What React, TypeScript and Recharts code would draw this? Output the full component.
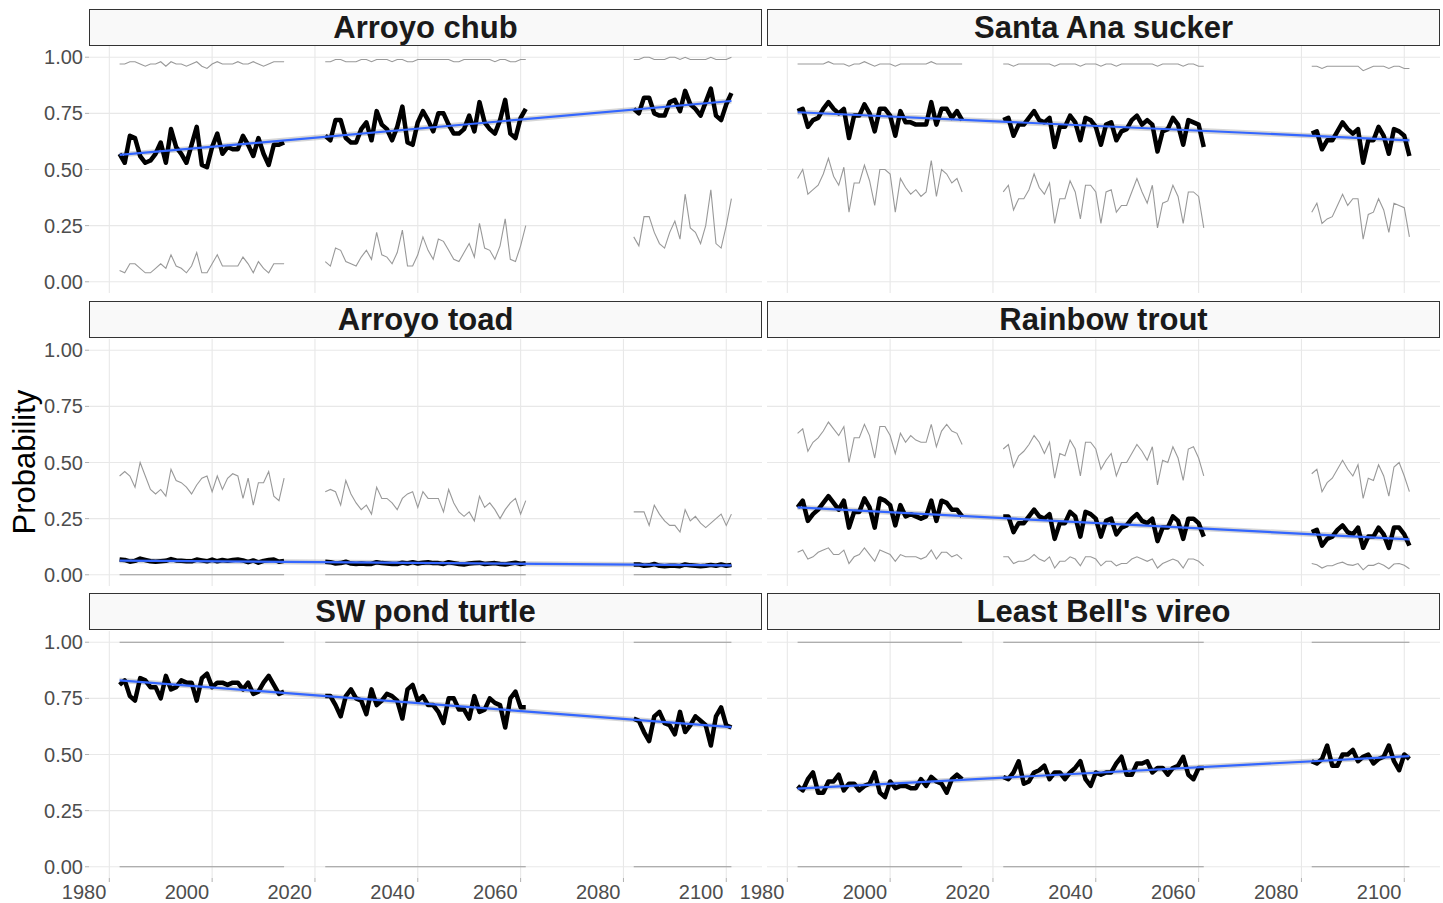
import { ComposedChart, Line, Area, XAxis, YAxis, CartesianGrid } from 'recharts'

// years are in three blocks: 1982-2014, 2022-2061, 2082-2101
const span = (a: number, b: number) => Array.from({ length: b - a + 1 }, (_, i) => a + i)
const years = [...span(1982, 2014), ...span(2022, 2061), ...span(2082, 2101)]
const gapYears = [2018, 2071]
const xTicks = [1980, 2000, 2020, 2040, 2060, 2080, 2100]
const yTicks = [0, 0.25, 0.5, 0.75, 1]

// Arroyo chub
const chubMean = [
  0.57, 0.53, 0.65, 0.64, 0.56, 0.53, 0.54, 0.57, 0.62, 0.53, 0.68, 0.60, 0.57, 0.53, 0.61, 0.69, 0.52, 0.51, 0.60, 0.66,
  0.57, 0.60, 0.59, 0.59, 0.65, 0.61, 0.56, 0.64, 0.57, 0.52, 0.61, 0.61, 0.62,
  0.65, 0.63, 0.72, 0.72, 0.64, 0.62, 0.62, 0.68, 0.71, 0.63, 0.76, 0.70, 0.68, 0.63, 0.69, 0.78, 0.62, 0.61, 0.71, 0.76,
  0.72, 0.67, 0.75, 0.75, 0.70, 0.66, 0.66, 0.68, 0.74, 0.67, 0.80, 0.71, 0.68, 0.66, 0.72, 0.81, 0.66, 0.64, 0.73, 0.77,
  0.77, 0.75, 0.82, 0.82, 0.75, 0.74, 0.74, 0.80, 0.81, 0.76, 0.85, 0.79, 0.77, 0.74, 0.80, 0.86, 0.74, 0.72, 0.79, 0.84,
]
const chubHi = [
  0.97, 0.97, 0.98, 0.98, 0.97, 0.96, 0.97, 0.97, 0.98, 0.96, 0.98, 0.97, 0.97, 0.96, 0.97, 0.98, 0.96, 0.95, 0.97, 0.98,
  0.97, 0.97, 0.97, 0.98, 0.97, 0.97, 0.98, 0.97, 0.96, 0.97, 0.98, 0.98, 0.98,
  0.98, 0.98, 0.99, 0.99, 0.98, 0.98, 0.98, 0.99, 0.99, 0.98, 0.99, 0.99, 0.99, 0.98, 0.99, 0.99, 0.98, 0.98, 0.99, 0.99,
  0.99, 0.99, 0.99, 0.99, 0.99, 0.98, 0.98, 0.99, 0.99, 0.99, 0.99, 0.99, 0.99, 0.98, 0.99, 0.99, 0.98, 0.98, 0.99, 0.99,
  0.99, 0.99, 1.0, 1.0, 0.99, 0.99, 0.99, 1.0, 1.0, 0.99, 1.0, 0.99, 0.99, 0.99, 0.99, 1.0, 0.99, 0.99, 0.99, 1.0,
]
const chubLo = [
  0.05, 0.04, 0.08, 0.08, 0.06, 0.04, 0.04, 0.06, 0.08, 0.06, 0.12, 0.07, 0.06, 0.04, 0.07, 0.13, 0.04, 0.04, 0.08, 0.12,
  0.07, 0.07, 0.07, 0.07, 0.11, 0.08, 0.04, 0.09, 0.06, 0.04, 0.08, 0.08, 0.08,
  0.09, 0.07, 0.15, 0.14, 0.09, 0.08, 0.07, 0.11, 0.14, 0.10, 0.22, 0.12, 0.11, 0.08, 0.13, 0.23, 0.07, 0.07, 0.12, 0.20,
  0.14, 0.10, 0.19, 0.18, 0.14, 0.10, 0.09, 0.13, 0.17, 0.11, 0.26, 0.15, 0.14, 0.10, 0.16, 0.28, 0.10, 0.09, 0.16, 0.25,
  0.20, 0.16, 0.29, 0.29, 0.22, 0.17, 0.15, 0.22, 0.27, 0.19, 0.39, 0.24, 0.22, 0.17, 0.25, 0.41, 0.17, 0.15, 0.25, 0.37,
]
const chubFit = [0.565, 0.805]

// Santa Ana sucker
const suckerMean = [
  0.76, 0.77, 0.69, 0.72, 0.73, 0.77, 0.80, 0.77, 0.75, 0.77, 0.64, 0.74, 0.74, 0.79, 0.75, 0.67, 0.77, 0.77, 0.74, 0.65,
  0.76, 0.71, 0.71, 0.70, 0.70, 0.70, 0.80, 0.70, 0.77, 0.77, 0.73, 0.76, 0.72,
  0.72, 0.73, 0.65, 0.70, 0.70, 0.73, 0.76, 0.72, 0.71, 0.73, 0.60, 0.69, 0.69, 0.74, 0.71, 0.63, 0.73, 0.72, 0.69, 0.61,
  0.70, 0.71, 0.63, 0.67, 0.68, 0.72, 0.74, 0.70, 0.72, 0.70, 0.58, 0.67, 0.68, 0.73, 0.70, 0.61, 0.72, 0.71, 0.70, 0.60,
  0.66, 0.67, 0.59, 0.63, 0.63, 0.67, 0.71, 0.68, 0.66, 0.68, 0.53, 0.63, 0.63, 0.69, 0.65, 0.57, 0.68, 0.67, 0.65, 0.56,
]
const suckerHi = [
  0.97, 0.97, 0.97, 0.97, 0.97, 0.97, 0.98, 0.97, 0.97, 0.97, 0.96, 0.97, 0.97, 0.98, 0.97, 0.96, 0.97, 0.97, 0.97, 0.96,
  0.97, 0.97, 0.97, 0.97, 0.97, 0.97, 0.98, 0.97, 0.97, 0.97, 0.97, 0.97, 0.97,
  0.97, 0.97, 0.96, 0.97, 0.97, 0.97, 0.97, 0.97, 0.97, 0.97, 0.96, 0.97, 0.97, 0.97, 0.97, 0.96, 0.97, 0.97, 0.97, 0.96,
  0.97, 0.97, 0.96, 0.97, 0.97, 0.97, 0.97, 0.97, 0.97, 0.97, 0.96, 0.97, 0.97, 0.97, 0.97, 0.96, 0.97, 0.97, 0.96, 0.96,
  0.96, 0.96, 0.95, 0.96, 0.96, 0.96, 0.96, 0.96, 0.96, 0.96, 0.94, 0.95, 0.96, 0.96, 0.96, 0.95, 0.96, 0.96, 0.95, 0.95,
]
const suckerLo = [
  0.46, 0.50, 0.39, 0.41, 0.43, 0.48, 0.55, 0.47, 0.43, 0.51, 0.31, 0.44, 0.44, 0.52, 0.45, 0.34, 0.50, 0.50, 0.48, 0.31,
  0.46, 0.42, 0.39, 0.41, 0.38, 0.40, 0.54, 0.38, 0.50, 0.48, 0.44, 0.46, 0.40,
  0.40, 0.43, 0.32, 0.37, 0.37, 0.41, 0.48, 0.42, 0.39, 0.44, 0.26, 0.37, 0.37, 0.45, 0.40, 0.28, 0.43, 0.43, 0.40, 0.26,
  0.40, 0.41, 0.31, 0.34, 0.34, 0.40, 0.46, 0.40, 0.35, 0.43, 0.24, 0.35, 0.36, 0.43, 0.38, 0.26, 0.40, 0.40, 0.38, 0.24,
  0.31, 0.35, 0.26, 0.28, 0.29, 0.34, 0.39, 0.34, 0.37, 0.37, 0.19, 0.30, 0.31, 0.37, 0.32, 0.22, 0.35, 0.34, 0.33, 0.20,
]
const suckerFit = [0.755, 0.63]

// Arroyo toad
const toadMean = [
  0.068, 0.066, 0.058, 0.062, 0.072, 0.066, 0.060, 0.058, 0.060, 0.062, 0.070, 0.064, 0.062, 0.060, 0.060, 0.068, 0.064,
  0.060, 0.068, 0.060, 0.066, 0.062, 0.066, 0.068, 0.064, 0.056, 0.064, 0.054, 0.062, 0.066, 0.068, 0.058, 0.062,
  0.058, 0.056, 0.050, 0.052, 0.058, 0.050, 0.048, 0.050, 0.048, 0.048, 0.056, 0.052, 0.050, 0.048, 0.048, 0.054, 0.050,
  0.056, 0.050, 0.054, 0.056, 0.052, 0.052, 0.048, 0.056, 0.052, 0.048, 0.046, 0.050, 0.052, 0.054, 0.048, 0.050, 0.052,
  0.048, 0.046, 0.050, 0.054, 0.048, 0.052,
  0.046, 0.046, 0.040, 0.042, 0.048, 0.040, 0.038, 0.040, 0.040, 0.038, 0.046, 0.042, 0.040, 0.038, 0.040, 0.044, 0.040,
  0.046, 0.040, 0.044,
]
const toadHi = [
  0.44, 0.46, 0.44, 0.39, 0.50, 0.44, 0.38, 0.36, 0.38, 0.35, 0.47, 0.42, 0.41, 0.39, 0.36, 0.40, 0.43, 0.44, 0.37, 0.44,
  0.38, 0.43, 0.45, 0.44, 0.34, 0.43, 0.31, 0.41, 0.41, 0.46, 0.35, 0.33, 0.43,
  0.37, 0.38, 0.37, 0.31, 0.42, 0.36, 0.32, 0.29, 0.31, 0.27, 0.39, 0.34, 0.34, 0.32, 0.29, 0.34, 0.36, 0.37, 0.30, 0.37,
  0.34, 0.34, 0.34, 0.28, 0.38, 0.32, 0.28, 0.26, 0.28, 0.24, 0.35, 0.30, 0.32, 0.29, 0.25, 0.29, 0.32, 0.34, 0.27, 0.33,
  0.28, 0.28, 0.28, 0.22, 0.31, 0.27, 0.24, 0.22, 0.22, 0.19, 0.29, 0.24, 0.26, 0.23, 0.21, 0.23, 0.25, 0.27, 0.22, 0.27,
]
const toadLo = [
  0, 0, 0, 0, 0, 0, 0, 0, 0, 0, 0, 0, 0, 0, 0, 0, 0, 0, 0, 0, 0, 0, 0, 0, 0, 0, 0, 0, 0, 0, 0, 0, 0,
  0, 0, 0, 0, 0, 0, 0, 0, 0, 0, 0, 0, 0, 0, 0, 0, 0, 0, 0, 0, 0, 0, 0, 0, 0, 0, 0, 0, 0, 0, 0, 0, 0, 0, 0, 0, 0, 0, 0, 0,
  0, 0, 0, 0, 0, 0, 0, 0, 0, 0, 0, 0, 0, 0, 0, 0, 0, 0, 0, 0,
]
const toadFit = [0.063, 0.042]

// Rainbow trout
const troutMean = [
  0.30, 0.33, 0.24, 0.27, 0.29, 0.32, 0.35, 0.32, 0.29, 0.33, 0.21, 0.28, 0.28, 0.34, 0.30, 0.21, 0.34, 0.33, 0.31, 0.22,
  0.31, 0.26, 0.27, 0.26, 0.25, 0.26, 0.33, 0.24, 0.33, 0.32, 0.29, 0.29, 0.26,
  0.26, 0.26, 0.19, 0.23, 0.23, 0.26, 0.29, 0.26, 0.25, 0.27, 0.16, 0.23, 0.23, 0.28, 0.26, 0.17, 0.28, 0.27, 0.25, 0.17,
  0.24, 0.25, 0.18, 0.21, 0.22, 0.25, 0.27, 0.24, 0.23, 0.25, 0.15, 0.21, 0.21, 0.26, 0.24, 0.16, 0.25, 0.25, 0.23, 0.17,
  0.19, 0.20, 0.13, 0.16, 0.17, 0.20, 0.22, 0.19, 0.18, 0.21, 0.12, 0.17, 0.17, 0.21, 0.18, 0.12, 0.21, 0.21, 0.18, 0.13,
]
const troutHi = [
  0.63, 0.65, 0.55, 0.59, 0.61, 0.64, 0.68, 0.65, 0.62, 0.66, 0.50, 0.61, 0.61, 0.67, 0.62, 0.52, 0.66, 0.66, 0.62, 0.54,
  0.63, 0.59, 0.62, 0.60, 0.59, 0.59, 0.67, 0.57, 0.64, 0.67, 0.64, 0.63, 0.58,
  0.56, 0.58, 0.48, 0.53, 0.55, 0.58, 0.62, 0.59, 0.54, 0.59, 0.43, 0.54, 0.53, 0.60, 0.56, 0.44, 0.59, 0.59, 0.56, 0.47,
  0.51, 0.54, 0.44, 0.50, 0.50, 0.54, 0.58, 0.55, 0.51, 0.57, 0.40, 0.51, 0.50, 0.57, 0.52, 0.42, 0.56, 0.57, 0.52, 0.44,
  0.45, 0.47, 0.37, 0.41, 0.43, 0.47, 0.51, 0.47, 0.44, 0.49, 0.34, 0.43, 0.42, 0.49, 0.44, 0.35, 0.48, 0.50, 0.44, 0.37,
]
const troutLo = [
  0.10, 0.11, 0.07, 0.08, 0.10, 0.11, 0.12, 0.09, 0.09, 0.11, 0.05, 0.08, 0.09, 0.12, 0.09, 0.06, 0.11, 0.10, 0.09, 0.06,
  0.09, 0.08, 0.08, 0.08, 0.07, 0.08, 0.11, 0.07, 0.10, 0.10, 0.08, 0.09, 0.07,
  0.08, 0.08, 0.05, 0.06, 0.06, 0.07, 0.09, 0.07, 0.06, 0.08, 0.03, 0.06, 0.06, 0.08, 0.07, 0.04, 0.08, 0.08, 0.07, 0.04,
  0.06, 0.06, 0.04, 0.05, 0.05, 0.07, 0.08, 0.07, 0.06, 0.07, 0.03, 0.05, 0.06, 0.07, 0.06, 0.03, 0.07, 0.07, 0.06, 0.04,
  0.05, 0.045, 0.03, 0.04, 0.04, 0.05, 0.056, 0.045, 0.042, 0.05, 0.022, 0.042, 0.042, 0.052, 0.042, 0.027, 0.048, 0.05,
  0.042, 0.027,
]
const troutFit = [0.30, 0.158]

// SW pond turtle
const turtleMean = [
  0.81, 0.83, 0.76, 0.74, 0.84, 0.83, 0.80, 0.80, 0.75, 0.85, 0.79, 0.80, 0.83, 0.82, 0.82, 0.74, 0.84, 0.86, 0.80, 0.82,
  0.82, 0.81, 0.82, 0.82, 0.79, 0.82, 0.77, 0.78, 0.82, 0.85, 0.81, 0.77, 0.78,
  0.76, 0.76, 0.72, 0.67, 0.76, 0.79, 0.75, 0.74, 0.68, 0.79, 0.72, 0.74, 0.77, 0.76, 0.74, 0.66, 0.79, 0.81, 0.74, 0.76,
  0.72, 0.72, 0.69, 0.64, 0.75, 0.75, 0.70, 0.70, 0.66, 0.76, 0.69, 0.70, 0.75, 0.73, 0.72, 0.62, 0.75, 0.78, 0.71, 0.71,
  0.66, 0.65, 0.60, 0.56, 0.67, 0.69, 0.64, 0.63, 0.59, 0.69, 0.60, 0.63, 0.67, 0.65, 0.63, 0.54, 0.67, 0.71, 0.63, 0.62,
]
const turtleHi = [
  1, 1, 1, 1, 1, 1, 1, 1, 1, 1, 1, 1, 1, 1, 1, 1, 1, 1, 1, 1, 1, 1, 1, 1, 1, 1, 1, 1, 1, 1, 1, 1, 1,
  1, 1, 1, 1, 1, 1, 1, 1, 1, 1, 1, 1, 1, 1, 1, 1, 1, 1, 1, 1, 1, 1, 1, 1, 1, 1, 1, 1, 1, 1, 1, 1, 1, 1, 1, 1, 1, 1, 1, 1,
  1, 1, 1, 1, 1, 1, 1, 1, 1, 1, 1, 1, 1, 1, 1, 1, 1, 1, 1, 1,
]
const turtleLo = [
  0, 0, 0, 0, 0, 0, 0, 0, 0, 0, 0, 0, 0, 0, 0, 0, 0, 0, 0, 0, 0, 0, 0, 0, 0, 0, 0, 0, 0, 0, 0, 0, 0,
  0, 0, 0, 0, 0, 0, 0, 0, 0, 0, 0, 0, 0, 0, 0, 0, 0, 0, 0, 0, 0, 0, 0, 0, 0, 0, 0, 0, 0, 0, 0, 0, 0, 0, 0, 0, 0, 0, 0, 0,
  0, 0, 0, 0, 0, 0, 0, 0, 0, 0, 0, 0, 0, 0, 0, 0, 0, 0, 0, 0,
]
const turtleFit = [0.83, 0.622]

// Least Bell's vireo
const vireoMean = [
  0.36, 0.34, 0.39, 0.42, 0.33, 0.33, 0.38, 0.38, 0.41, 0.34, 0.37, 0.37, 0.34, 0.36, 0.37, 0.42, 0.33, 0.31, 0.38, 0.35,
  0.36, 0.36, 0.35, 0.35, 0.39, 0.36, 0.40, 0.38, 0.37, 0.33, 0.39, 0.41, 0.39,
  0.40, 0.39, 0.42, 0.47, 0.37, 0.38, 0.42, 0.43, 0.45, 0.39, 0.42, 0.42, 0.39, 0.42, 0.44, 0.47, 0.39, 0.36, 0.42, 0.41,
  0.42, 0.42, 0.46, 0.49, 0.41, 0.41, 0.46, 0.46, 0.47, 0.42, 0.44, 0.44, 0.41, 0.44, 0.45, 0.49, 0.41, 0.39, 0.44, 0.44,
  0.47, 0.46, 0.48, 0.54, 0.45, 0.45, 0.50, 0.50, 0.52, 0.47, 0.49, 0.50, 0.46, 0.48, 0.49, 0.54, 0.47, 0.43, 0.50, 0.48,
]
const vireoHi = turtleHi
const vireoLo = turtleLo
const vireoFit = [0.348, 0.493]

const species = [
  { name: 'Arroyo chub', mean: chubMean, hi: chubHi, lo: chubLo, fit: chubFit },
  { name: 'Santa Ana sucker', mean: suckerMean, hi: suckerHi, lo: suckerLo, fit: suckerFit },
  { name: 'Arroyo toad', mean: toadMean, hi: toadHi, lo: toadLo, fit: toadFit },
  { name: 'Rainbow trout', mean: troutMean, hi: troutHi, lo: troutLo, fit: troutFit },
  { name: 'SW pond turtle', mean: turtleMean, hi: turtleHi, lo: turtleLo, fit: turtleFit },
  { name: "Least Bell's vireo", mean: vireoMean, hi: vireoHi, lo: vireoLo, fit: vireoFit },
]

const FONT = '"Liberation Sans", Arial, Helvetica, sans-serif'
const PANEL_W = 673
const PANEL_H = 247
const Y_AXIS_W = 60
const X_AXIS_H = 32
const X_LABEL_PAD = 40 // room for the first x label of the right column
const colLeft = [89, 767]
const rowTop = [46, 339, 631]
const stripTop = [9, 301, 593]
const BAND = 0.012

function buildRows(s: any) {
  const last = years.length - 1
  const rows: any[] = years.map((year, i) => ({
    year,
    mean: s.mean[i],
    hi: s.hi[i],
    lo: s.lo[i],
    fit: i === 0 ? s.fit[0] : i === last ? s.fit[1] : null,
    band: i === 0 ? [s.fit[0] - BAND, s.fit[0] + BAND] : i === last ? [s.fit[1] - BAND, s.fit[1] + BAND] : null,
  }))
  gapYears.forEach(year => rows.push({ year, mean: null, hi: null, lo: null, fit: null, band: null }))
  return rows.sort((a, b) => a.year - b.year)
}

const XTick = (props: any) => {
  const { x, y, payload } = props
  return (
    <text x={x - 3} y={y} dy={15} textAnchor="end" fill="#4d4d4d" fontSize={20} fontFamily={FONT}>
      {payload.value}
    </text>
  )
}

function Panel({ s, idx }: { s: any; idx: number }) {
  const col = idx % 2
  const row = Math.floor(idx / 2)
  const showY = col === 0
  const showX = row === 2
  const rows = buildRows(s)
  const left = colLeft[col]
  // left side: y axis on the first column, plain padding under the right column's first x label
  const padLeft = showY ? 0 : showX ? X_LABEL_PAD : 0
  const extra = (showY ? Y_AXIS_W : 0) + padLeft

  return (
    <>
      {/* strip */}
      <div
        style={{
          position: 'absolute', left, top: stripTop[row], width: PANEL_W, height: 37, boxSizing: 'border-box',
          border: '1px solid #333333', background: '#f9f9f9', textAlign: 'center',
          font: `bold 31px ${FONT}`, lineHeight: '36px', color: '#1a1a1a',
        }}
      >
        {s.name}
      </div>
      <div style={{ position: 'absolute', left: left - extra, top: rowTop[row] }}>
        <ComposedChart
          width={PANEL_W + extra}
          height={PANEL_H + (showX ? X_AXIS_H : 0)}
          data={rows}
          margin={{ top: 0, right: 0, bottom: 0, left: padLeft }}
        >
          <CartesianGrid stroke="#e8e8e8" strokeWidth={1.1} horizontalValues={yTicks} verticalValues={xTicks} />
          <XAxis
            type="number" dataKey="year" domain={[1976.05, 2106.95]} ticks={xTicks} hide={!showX}
            height={X_AXIS_H} axisLine={false} tickSize={4} tickLine={{ stroke: '#b0b0b0' }}
            tick={<XTick />} interval={0} allowDataOverflow
          />
          <YAxis
            type="number" domain={[-0.05, 1.05]} ticks={yTicks} hide={!showY} width={Y_AXIS_W}
            axisLine={false} tickSize={4} tickLine={{ stroke: '#b0b0b0' }} interval={0} allowDataOverflow
            tick={{ fill: '#4d4d4d', fontSize: 20, fontFamily: FONT }} tickFormatter={(v: number) => v.toFixed(2)}
          />
          <Line dataKey="hi" stroke="#999999" strokeWidth={1.1} dot={false} activeDot={false} isAnimationActive={false} />
          <Line dataKey="lo" stroke="#999999" strokeWidth={1.1} dot={false} activeDot={false} isAnimationActive={false} />
          <Line
            dataKey="mean" stroke="#000000" strokeWidth={4.5} strokeLinejoin="round" dot={false} activeDot={false}
            isAnimationActive={false}
          />
          <Area
            dataKey="band" stroke="none" fill="#999999" fillOpacity={0.4} connectNulls dot={false} activeDot={false}
            isAnimationActive={false}
          />
          <Line
            dataKey="fit" stroke="#3366ff" strokeWidth={2.2} connectNulls dot={false} activeDot={false}
            isAnimationActive={false}
          />
        </ComposedChart>
      </div>
    </>
  )
}

export default function App() {
  return (
    <div
      style={{
        position: 'absolute', left: 0, top: 0, width: 1443, height: 903, background: '#ffffff',
        fontFamily: FONT, overflow: 'hidden',
      }}
    >
      {species.map((s, i) => (
        <Panel key={s.name} s={s} idx={i} />
      ))}
      <div
        style={{
          position: 'absolute', left: 25 - 150, top: 462 - 20, width: 300, height: 40, lineHeight: '40px',
          textAlign: 'center', transform: 'rotate(-90deg)', fontSize: 31, color: '#000000',
        }}
      >
        Probability
      </div>
    </div>
  )
}
